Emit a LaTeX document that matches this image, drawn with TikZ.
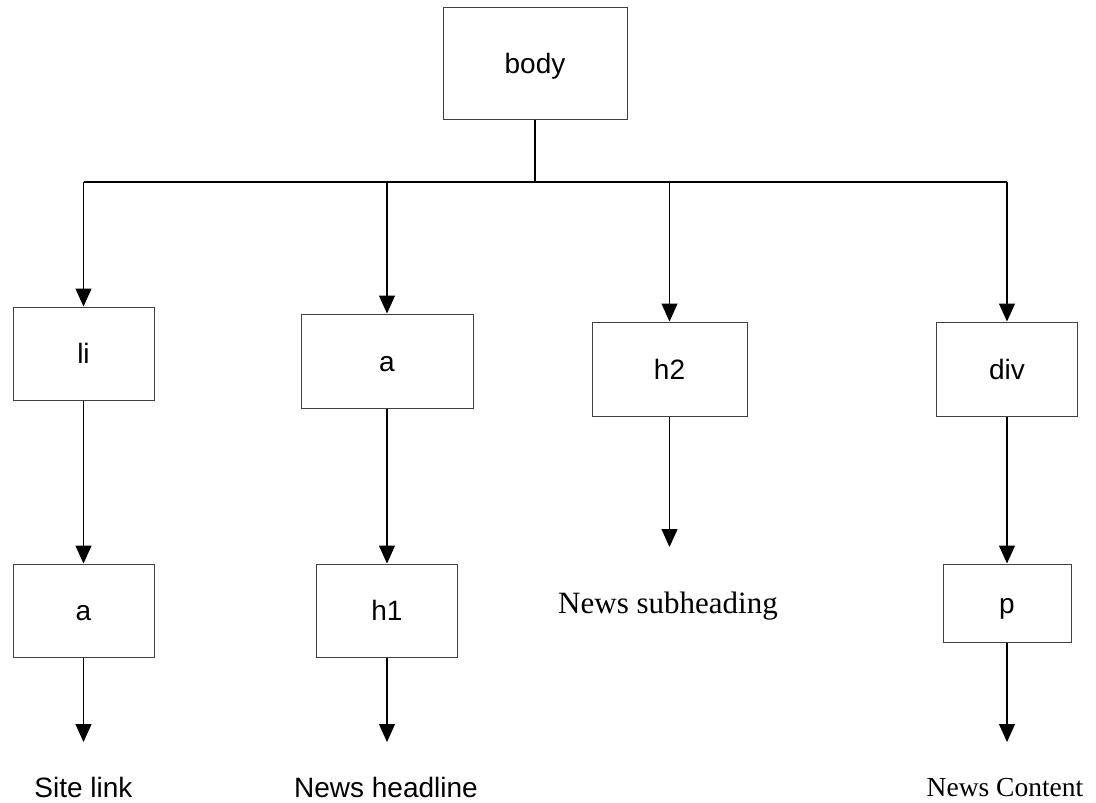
\documentclass[tikz,border=0pt]{standalone}
\usepackage{fontspec}
\setmainfont{Liberation Serif}
\setsansfont{Liberation Sans}
\usetikzlibrary{arrows.meta}
\begin{document}
\begin{tikzpicture}[x=1pt,y=-1pt,
  tagbox/.style={draw=black!75, line width=1pt, rectangle, inner sep=0pt,
    text height=20pt, text depth=0pt,
    font=\sffamily\fontsize{28}{30}\selectfont},
  conn/.style={draw=black, line width=1.2pt},
  arr/.style={conn, -{Triangle[length=18pt,width=16pt]}},
  sanslab/.style={anchor=base, inner sep=0pt, font=\sffamily\fontsize{28}{30}\selectfont},
  seriflab/.style={anchor=base, inner sep=0pt, font=\rmfamily\fontsize{#1}{#1}\selectfont},
]
\useasboundingbox (0,0) rectangle (1096,803);
\fill[white] (0,0) rectangle (1096,803);

\node[tagbox, minimum width=184pt, minimum height=112pt] (body) at (535,63) {body};
\node[tagbox, minimum width=141pt, minimum height=93pt] (li) at (83.5,353.5) {li};
\node[tagbox, minimum width=172pt, minimum height=94pt] (a1) at (387,361) {a};
\node[tagbox, minimum width=155pt, minimum height=94pt] (h2) at (669.5,369) {h2};
\node[tagbox, minimum width=141pt, minimum height=94pt] (div) at (1007,369) {div};
\node[tagbox, minimum width=141pt, minimum height=93pt] (a2) at (83.5,610.5) {a};
\node[tagbox, minimum width=141pt, minimum height=93pt] (h1) at (387,610.5) {h1};
\node[tagbox, minimum width=128pt, minimum height=78pt] (p) at (1007,603) {p};

\coordinate (jb) at (535,182);
\coordinate (j1) at (83.5,182);
\coordinate (j2) at (387,182);
\coordinate (j3) at (669.5,182);
\coordinate (j4) at (1007,182);
\coordinate (e3) at (669.5,547);
\coordinate (e1) at (83.5,742);
\coordinate (e2) at (387,742);
\coordinate (e4) at (1007,742);

\draw[conn] (body.south) -- (jb);
\draw[conn] (j1) -- (j4);
\draw[arr] (j1) -- (li.north);
\draw[arr] (j2) -- (a1.north);
\draw[arr] (j3) -- (h2.north);
\draw[arr] (j4) -- (div.north);

\draw[arr] (li.south) -- (a2.north);
\draw[arr] (a1.south) -- (h1.north);
\draw[arr] (h2.south) -- (e3);
\draw[arr] (div.south) -- (p.north);
\draw[arr] (a2.south) -- (e1);
\draw[arr] (h1.south) -- (e2);
\draw[arr] (p.south) -- (e4);

\node[sanslab] (site) at (83.5,797) {Site link};
\node[sanslab] (head) at (386,797) {News headline};
\node[seriflab=31] (sub) at (668,613) {News subheading};
\node[seriflab=27.5] (cont) at (1005,796) {News Content};
\end{tikzpicture}
\end{document}
